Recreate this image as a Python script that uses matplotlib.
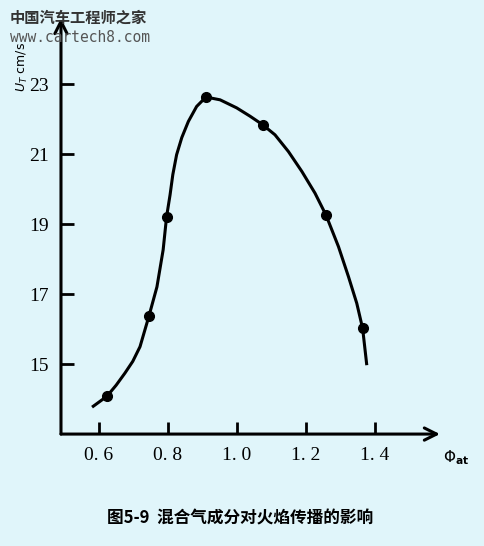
import matplotlib.pyplot as plt

# measured points (markers)
phi_pts = [0.623, 0.745, 0.796, 0.910, 1.074, 1.258, 1.364]
ut_pts = [14.08, 16.38, 19.22, 22.64, 21.85, 19.26, 16.02]

# curve
curve_phi = [0.580, 0.623, 0.650, 0.675, 0.698, 0.719, 0.745, 0.768, 0.786,
             0.796, 0.806, 0.814, 0.825, 0.840, 0.859, 0.883, 0.910, 0.951,
             0.999, 1.038, 1.074, 1.110, 1.149, 1.188, 1.226, 1.258, 1.294,
             1.323, 1.347, 1.364, 1.376]
curve_ut = [13.77, 14.08, 14.40, 14.74, 15.08, 15.50, 16.38, 17.21, 18.27,
            19.22, 19.84, 20.42, 20.99, 21.48, 21.94, 22.37, 22.64, 22.56,
            22.33, 22.09, 21.85, 21.56, 21.08, 20.51, 19.89, 19.26, 18.36,
            17.50, 16.74, 16.02, 14.97]

xticks = [0.6, 0.8, 1.0, 1.2, 1.4]
xtick_labels = ['0. 6', '0. 8', '1. 0', '1. 2', '1. 4']
yticks = [15, 17, 19, 21, 23]
ytick_labels = ['15', '17', '19', '21', '23']

caption = '图5-9  混合气成分对火焰传播的影响'

bg = '#e0f5fa'
fig = plt.figure(figsize=(4.84, 5.46), dpi=100, facecolor=bg)
ax = fig.add_axes([0.126, 0.205, 0.783, 0.762])
ax.set_facecolor(bg)

ax.plot(curve_phi, curve_ut, color='black', lw=2.2, solid_joinstyle='round',
        solid_capstyle='butt')
ax.plot(phi_pts, ut_pts, 'o', color='black', ms=7)

ax.set_xlim(0.49, 1.588)
ax.set_ylim(13.0, 24.9)

for s in ax.spines.values():
    s.set_visible(False)

# axes with arrows
ax.annotate('', xy=(1, 0), xytext=(0, 0), xycoords='axes fraction',
            arrowprops=dict(arrowstyle='->', lw=2.2, mutation_scale=22,
                            shrinkA=0, shrinkB=0), annotation_clip=False)
ax.annotate('', xy=(0, 1), xytext=(0, 0), xycoords='axes fraction',
            arrowprops=dict(arrowstyle='->', lw=2.2, mutation_scale=22,
                            shrinkA=0, shrinkB=0), annotation_clip=False)

ax.set_xticks(xticks)
ax.set_xticklabels(xtick_labels, family='Liberation Serif', fontsize=14)
ax.set_yticks(yticks)
ax.set_yticklabels(ytick_labels, family='Liberation Serif', fontsize=14)
ax.tick_params(direction='in', length=9, width=2, pad=9)

# axis labels
fig.text(0.046, 0.878, r'$U_T$ cm/s', rotation=90, fontsize=9, ha='center', va='center')
fig.text(0.915, 0.162, r'$\mathit{\Phi}_{\mathbf{at}}$', fontsize=11, ha='left', va='center')

# watermark
fig.text(0.02, 0.968, '中国汽车工程师之家', family=['Noto Sans CJK SC', 'DejaVu Sans'],
         fontsize=11, color='#333333', weight='bold', va='center')
fig.text(0.02, 0.932, 'www.cartech8.com', family='DejaVu Sans Mono',
         fontsize=10.5, color='#555555', va='center')

fig.text(0.495, 0.051, caption, family=['Noto Sans CJK SC', 'DejaVu Sans'],
         fontsize=12, weight='bold', ha='center', va='center')

fig.savefig('out.png', dpi=100, facecolor=bg)
